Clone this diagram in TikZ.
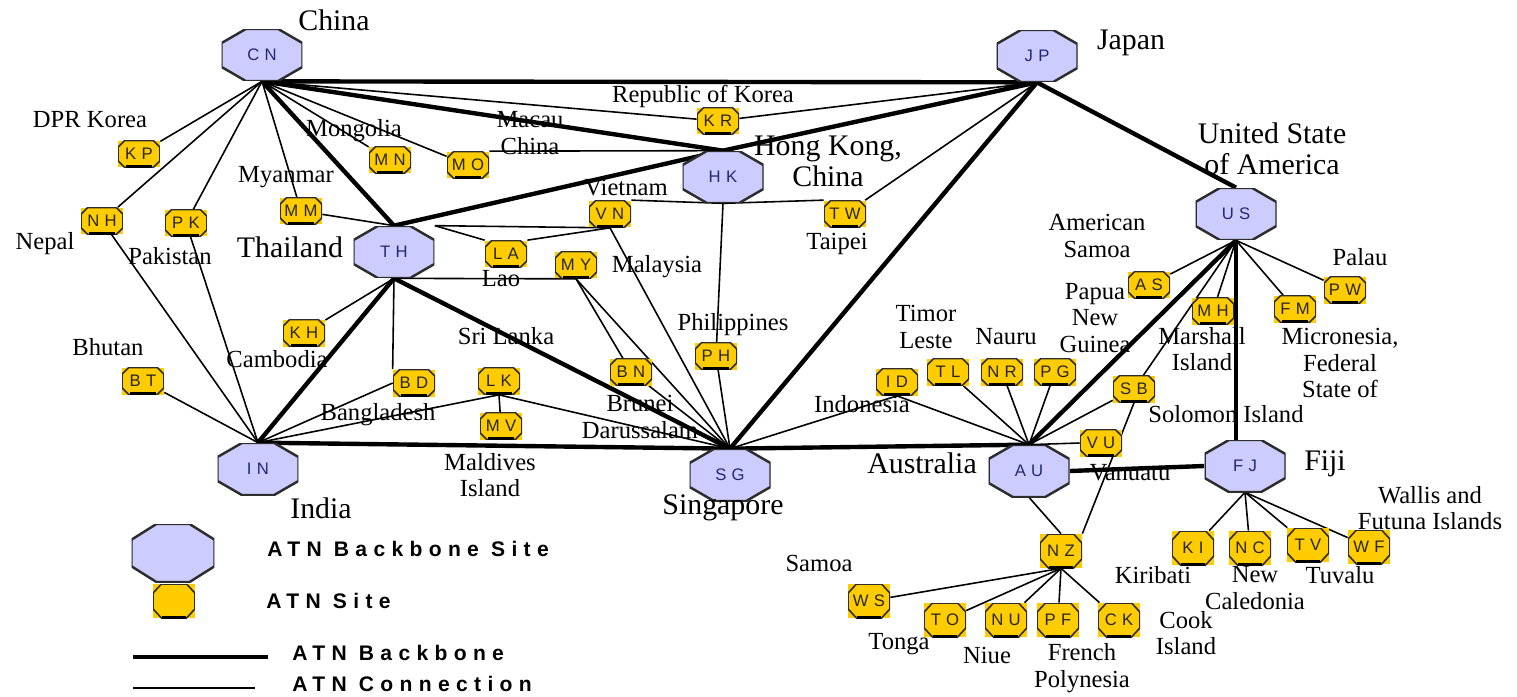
\documentclass[tikz,border=0pt]{standalone}
\usepackage{fontspec}
\setmainfont{Liberation Serif}
\newfontfamily\codefont[LetterSpace=32]{Liberation Sans}
\newfontfamily\legendfont[LetterSpace=30]{Liberation Sans}
\usetikzlibrary{positioning,backgrounds,calc}
\definecolor{lavender}{RGB}{204,204,255}
\definecolor{navy}{RGB}{35,40,115}
\definecolor{gold}{RGB}{255,204,0}
\definecolor{ink}{RGB}{45,45,45}
\tikzset{
  box corners/.style={path picture={
    \coordinate (pa) at (path picture bounding box.north west);
    \coordinate (pb) at (path picture bounding box.south east);
    \coordinate (pc) at (pa -| pb);
    \coordinate (pd) at (pa |- pb);
    #1}},
  backbone/.style={rectangle,inner sep=0pt,minimum width=1.62cm,minimum height=1.04cm,
    font=\codefont\fontsize{9.5}{9.5}\selectfont,text=navy,
    box corners={\filldraw[fill=lavender,draw=ink,line width=1.4pt]
      ($(pa)!.3!(pc)$) -- ($(pc)!.3!(pa)$) -- ($(pc)!.27!(pb)$) -- ($(pb)!.27!(pc)$)
      -- ($(pb)!.3!(pd)$) -- ($(pd)!.3!(pb)$) -- ($(pd)!.27!(pa)$) -- ($(pa)!.27!(pd)$) -- cycle;}},
  site/.style={rectangle,inner sep=0pt,fill=gold,minimum width=.84cm,minimum height=.54cm,
    font=\codefont\fontsize{9.5}{9.5}\selectfont,text=black!85,
    box corners={\draw[ink,line width=.9pt]
      ($(pa)!.16!(pc)$) -- ($(pc)!.16!(pa)$) -- ($(pc)!.25!(pb)$) -- ($(pb)!.25!(pc)$)
      -- ($(pb)!.16!(pd)$) -- ($(pd)!.16!(pb)$) -- ($(pd)!.25!(pa)$) -- ($(pa)!.25!(pd)$) -- cycle;
      \draw[black,line width=2.6pt] ($(pb)!.18!(pd)$) -- ($(pd)!.18!(pb)$);}},
  site tall/.style={site,minimum height=.68cm,
    box corners={\draw[ink,line width=.9pt]
      ($(pa)!.2!(pc)$) -- ($(pc)!.2!(pa)$) -- ($(pc)!.27!(pb)$) -- ($(pb)!.27!(pc)$)
      -- ($(pb)!.2!(pd)$) -- ($(pd)!.2!(pb)$) -- ($(pd)!.27!(pa)$) -- ($(pa)!.27!(pd)$) -- cycle;
      \draw[black,line width=2.6pt] ($(pb)!.22!(pd)$) -- ($(pd)!.22!(pb)$);}},
  link/.style={draw=black,line width=.9pt},
  backbone link/.style={draw=black,line width=2.5pt},
  tag/.style={font=\fontsize{14}{15}\selectfont,align=center,inner sep=0pt},
  big tag/.style={font=\fontsize{17}{17.5}\selectfont,align=center,inner sep=0pt},
  legend/.style={font=\legendfont\bfseries\fontsize{12}{12}\selectfont,inner sep=0pt,anchor=west},
}
\begin{document}
\begin{tikzpicture}[x=0.02cm,y=-0.02cm]
  \useasboundingbox (0,0) rectangle (1517,696);
  % backbone sites
  \foreach \n/\x/\y in {CN/262/55,JP/1037/56,HK/723/177,TH/394/252,IN/258/469,
      SG/730/475,AU/1029/471,US/1236/214,FJ/1245/466}
    \node[backbone] (\n) at (\x,\y) {\n};
  % ATN sites
  \foreach \n/\x/\y in {KP/139/154,NH/102/221,PK/186/223,MM/301/211,MN/390/160,MO/468/165,
      KR/718/121,VN/610/214,TW/845/214,LA/506/254,MY/576/265,KH/304/333,BT/143/381,
      BD/414/383,LK/499/381,MV/501/426,BN/631/372,PH/716/356,ID/897/382,TL/948/372,
      NR/1002/372,PG/1055/372,SB/1134/389,VU/1101/443,AS/1149/285,MH/1213/311,
      FM/1295/309,PW/1345/290}
    \node[site] (\n) at (\x,\y) {\n};
  \foreach \n/\x/\y in {NZ/1061/551,WS/869/601,TO/945/620,NU/1006/620,PF/1058/620,
      CK/1119/620,KI/1193/548,NC/1250/548,TV/1308/545,WF/1369/547}
    \node[site tall] (\n) at (\x,\y) {\n};
  % country names
  \foreach \n/\x/\y/\t in {KP/90/120/DPR Korea,NH/45/244/Nepal,PK/170/256/Pakistan,
      MM/286/177/Myanmar,MN/354/131/Mongolia,MO/530/133/Macau\\China,
      KR/703/96/Republic of Korea,VN/626/188/Vietnam,TW/837/244/Taipei,LA/501/279/Lao,
      MY/657/267/Malaysia,KH/277/359/Cambodia,LK/506/336/Sri Lanka,BT/108/347/Bhutan,
      BD/378/415/Bangladesh,MV/490/475/Maldives\\Island,BN/640/417/Brunei\\Darussalam,
      PH/733/325/Philippines,ID/862/404/Indonesia,TL/926/327/Timor\\Leste,
      NR/1006/337/Nauru,PG/1095/318/Papua\\New\\Guinea,AS/1097/236/American\\Samoa,
      PW/1360/257/Palau,MH/1202/349/Marshall\\Island,FM/1340/363/{Micronesia,\\Federal\\State of},
      SB/1226/414/Solomon Island,VU/1130/473/Vanuatu,WF/1430/508/Wallis and\\Futuna Islands,
      KI/1153/575/Kiribati,NC/1255/588/New\\Caledonia,TV/1340/575/Tuvalu,WS/819/563/Samoa,
      TO/899/644/Tonga,NU/987/655/Niue,PF/1082/668/French\\Polynesia,CK/1186/633/Cook\\Island}
    \node[tag] (l\n) at (\x,\y) {\t};
  \foreach \n/\x/\y/\t in {CN/334/20/China,JP/1131/43/Japan,HK/828/161/{Hong Kong,\\China},
      TH/290/247/Thailand,IN/321/508/India,SG/723/508/Singapore,AU/922/463/Australia,
      US/1272/149/United State\\of America,FJ/1325/464/Fiji}
    \node[big tag] (l\n) at (\x,\y) {\t};
  % legend
  \node[backbone,minimum width=1.66cm,minimum height=1.16cm] (keybb) at (173,553) {};
  \node[site tall] (keysite) at (174,601) {};
  \node[legend] (keybbt) at (267,549) {ATN Backbone Site};
  \node[legend] (keysitet) at (266,601) {ATN Site};
  \coordinate (kb1) at (133,657); \coordinate (kb2) at (268,657);
  \coordinate (kc1) at (133,688); \coordinate (kc2) at (255,688);
  \node[legend] (kbt) at (292,653) {ATN Backbone};
  \node[legend] (kct) at (292,684) {ATN Connection};
  \draw[backbone link] (kb1) -- (kb2);
  \draw[link] (kc1) -- (kc2);
  \begin{scope}[on background layer]
    \foreach \a/\b in {CN.south/KP,CN.south/NH,CN.south/PK,CN.south/MM,CN.south/MN,CN.south/MO,
        CN.south/KR,KR/JP.south,NH/IN.north,PK/IN.north,MM/TH.north,MO.north east/HK.north,
        TH.north east/VN.south,TH.north east/LA.north west,LA.north east/VN.south,
        TH.south/MY.south,TH.south/KH,TH.south/BD.north west,BD.west/IN.north,BT/IN.north,
        LK.south/IN.north,LK.south/MV,LK.south/SG.north,VN.south/SG.north,MY.south/BN,
        MY.south/SG.north,BN/SG.north,HK.south/PH,PH/SG.north,HK.south/VN.north east,
        HK.south/TW.north west,TW/JP.south,SG.north/ID.south,ID.south/AU.north,TL/AU.north,
        NR/AU.north,PG/AU.north,SB/AU.north,VU.west/AU.north,US.south/AS,US.south/MH,
        US.south/FM,US.south/PW,US.south/SB,SB.south/NZ.north east,AU.south/NZ.north,
        NZ.south/WS,NZ.south/TO,NZ.south/NU,NZ.south/PF,NZ.south/CK,
        FJ.south/KI,FJ.south/NC,FJ.south/TV,FJ.south/WF}
      \draw[link] (\a) -- (\b);
    \foreach \a/\b in {CN.south/JP.south,CN.south/HK.north,CN.south/TH.north,TH.north/HK.north,
        HK.north/JP.south,JP.south/US.north,JP.south/SG.north,TH.south/IN.north,
        TH.south/SG.north,IN.north/SG.north,SG.north/AU.north,AU.north/US.south,AU.east/FJ.west}
      \draw[backbone link] (\a) -- (\b);
    \draw[backbone link] (US.south) -- (US.south |- FJ.north);
  \end{scope}
\end{tikzpicture}
\end{document}
